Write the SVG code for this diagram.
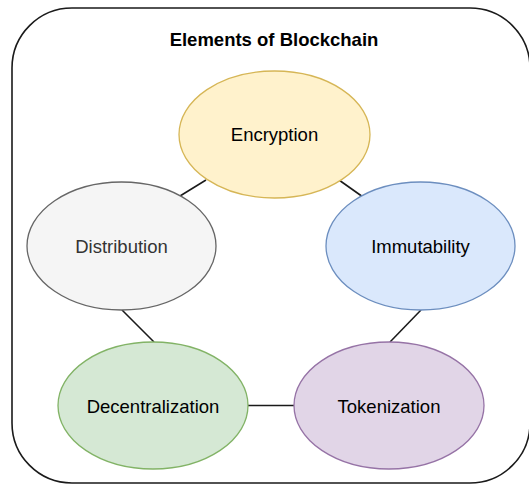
<svg xmlns="http://www.w3.org/2000/svg" width="529" height="485" viewBox="0 0 529 485">
  <style>
    .frame { fill: #ffffff; stroke: #1a1a1a; stroke-width: 1.6; }
    .title { font-family: "Liberation Sans", Arial, sans-serif; font-size: 18.5px; font-weight: bold; fill: #000000; text-anchor: middle; }
    .label { font-family: "Liberation Sans", Arial, sans-serif; font-size: 18.5px; fill: #000000; text-anchor: middle; }
    .node { stroke-width: 1.3; }
    .link { stroke: #1a1a1a; stroke-width: 1.6; fill: none; }
  </style>

  <!-- outer frame -->
  <rect class="frame" x="12" y="8" width="518" height="475" rx="60" ry="60"/>
  <text class="title" x="274" y="46">Elements of Blockchain</text>

  <!-- connectors -->
  <g id="connectors">
    <line class="link" x1="180" y1="196" x2="206" y2="180"/>
    <line class="link" x1="339" y1="180" x2="363" y2="197"/>
    <line class="link" x1="122" y1="310" x2="154" y2="342"/>
    <line class="link" x1="421" y1="310" x2="390" y2="342"/>
    <line class="link" x1="248" y1="405.5" x2="294" y2="405.5"/>
  </g>

  <g id="encryption">
    <ellipse class="node" cx="274.5" cy="134.5" rx="95.5" ry="63.5" fill="#fff2cc" stroke="#d6b656"/>
    <text class="label" x="274.5" y="141">Encryption</text>
  </g>

  <g id="distribution">
    <ellipse class="node" cx="121.5" cy="246" rx="94.5" ry="64" fill="#f5f5f5" stroke="#666666"/>
    <text class="label" x="121.5" y="252.5" style="fill:#333333">Distribution</text>
  </g>

  <g id="immutability">
    <ellipse class="node" cx="420.5" cy="246" rx="94.5" ry="64" fill="#dae8fc" stroke="#6c8ebf"/>
    <text class="label" x="420.5" y="252.5">Immutability</text>
  </g>

  <g id="decentralization">
    <ellipse class="node" cx="153" cy="405.5" rx="95" ry="63.5" fill="#d5e8d4" stroke="#82b366"/>
    <text class="label" x="153" y="412.5">Decentralization</text>
  </g>

  <g id="tokenization">
    <ellipse class="node" cx="389" cy="405.5" rx="95" ry="63.5" fill="#e1d5e7" stroke="#9673a6"/>
    <text class="label" x="389" y="412.5">Tokenization</text>
  </g>
</svg>
